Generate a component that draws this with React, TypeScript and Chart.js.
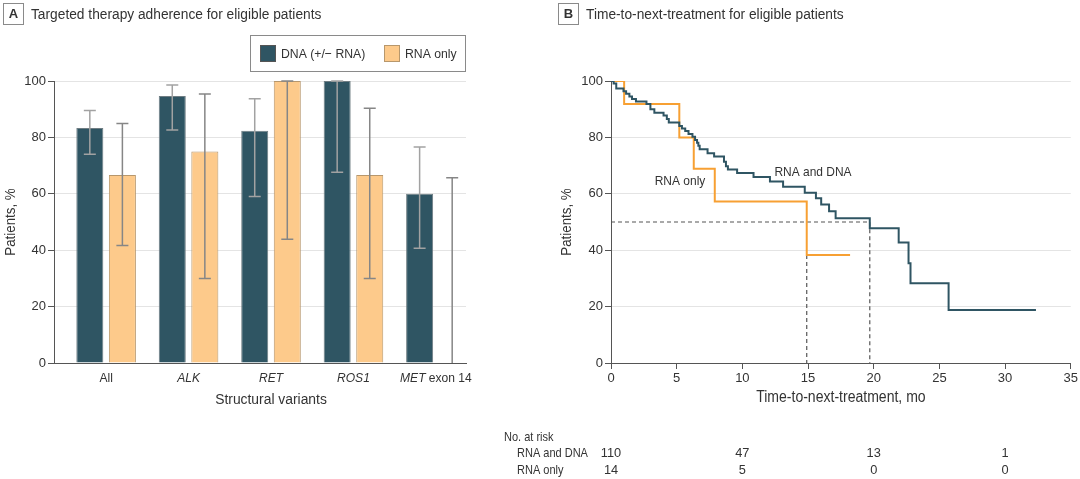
import React, { useEffect, useRef } from "react";
import { Chart, registerables } from "chart.js";

Chart.register(...registerables);

// ---------- data ----------
const categories = ["All", "ALK", "RET", "ROS1", "MET"];
const categorySuffix = ["", "", "", "", " exon 14"];
const categoryItalic = [false, true, true, true, true];

const dnaValues = [83.3, 94.7, 82.4, 100, 60];
const dnaLower = [74.0, 82.6, 59.0, 67.6, 40.7];
const dnaUpper = [89.5, 98.6, 93.7, 100, 76.6];

const rnaValues = [66.7, 75, 100, 66.7, 0];
const rnaLower = [41.7, 30.0, 43.9, 30.0, 0];
const rnaUpper = [84.9, 95.4, 100, 90.3, 65.7];

const kmDnaTimes = [0, 0.2, 0.4, 0.95, 1.15, 1.4, 1.6, 1.9, 2.7, 3.0, 3.3, 4.0, 4.25, 4.4, 5.2, 5.4, 5.65, 5.9, 6.2, 6.4, 6.55, 6.65, 6.75, 7.35, 7.85, 8.6, 8.75, 8.9, 9.6, 10.85, 12.1, 13.1, 14.75, 15.6, 16.0, 16.6, 17.1, 19.7, 21.9, 22.65, 22.8, 25.7, 32.35];
const kmDnaSurv = [100, 99.1, 97.3, 96.4, 95.5, 94.5, 93.6, 92.7, 91.8, 90.0, 88.7, 87.8, 86.5, 85.3, 84.0, 83.2, 82.3, 81.2, 80.2, 79.1, 78.1, 77.0, 75.8, 74.4, 73.2, 71.4, 69.8, 68.6, 67.4, 66.0, 64.4, 62.5, 60.4, 58.4, 56.2, 53.8, 51.3, 47.8, 42.7, 35.4, 28.3, 18.8, 18.8];

const kmRnaTimes = [0, 1.0, 5.2, 6.3, 7.9, 14.9, 18.2];
const kmRnaSurv = [100, 91.8, 80.0, 68.9, 57.3, 38.3, 38.3];

const medianDna = 19.7;
const medianRna = 14.9;
const medianRnaTop = 38.3;

const riskTimes = [0, 10, 20, 30];
const riskDna = [110, 47, 13, 1];
const riskRna = [14, 5, 0, 0];

// ---------- styles ----------
const FONT = '"Liberation Sans", Arial, sans-serif';
const INK = "#333333";
const DNA_FILL = "#2f5563";
const DNA_EDGE = "#6f7d83";
const RNA_FILL = "#fdca8b";
const RNA_EDGE = "#b7976c";
const ORANGE = "#f7a033";
const SX = 0.9; // horizontal condensing of label text

// draw condensed text; returns drawn width
function cText(
  ctx: CanvasRenderingContext2D,
  text: string,
  x: number,
  y: number,
  size: number,
  align: CanvasTextAlign = "left",
  style = "",
  sx = SX
) {
  ctx.save();
  ctx.font = `${style}${size}px ${FONT}`;
  ctx.textAlign = align;
  ctx.textBaseline = "middle";
  ctx.translate(x, y);
  ctx.scale(sx, 1);
  ctx.fillText(text, 0, 0);
  const w = ctx.measureText(text).width * sx;
  ctx.restore();
  return w;
}

function measure(ctx: CanvasRenderingContext2D, text: string, size: number, style = "", sx = SX) {
  ctx.save();
  ctx.font = `${style}${size}px ${FONT}`;
  const w = ctx.measureText(text).width * sx;
  ctx.restore();
  return w;
}

function titleBox(ctx: CanvasRenderingContext2D, x: number, letter: string, title: string) {
  ctx.save();
  ctx.strokeStyle = "#8a8a8a";
  ctx.lineWidth = 1;
  ctx.strokeRect(x + 0.5, 3.5, 20, 21);
  ctx.fillStyle = INK;
  cText(ctx, letter, x + 10.5, 14.5, 13, "center", "bold ", 1);
  cText(ctx, title, x + 28, 14.5, 15.2, "left", "", 0.905);
  ctx.restore();
}

const errorBarPlugin = {
  id: "errorBars",
  afterDatasetsDraw(chart: any) {
    const ctx = chart.ctx as CanvasRenderingContext2D;
    const ys = chart.scales.y;
    const sets = [
      [dnaLower, dnaUpper, "#a2a2a2"],
      [rnaLower, rnaUpper, "#868686"],
    ] as const;
    sets.forEach(([lo, hi, col], di) => {
      const meta = chart.getDatasetMeta(di);
      meta.data.forEach((el: any, i: number) => {
        const x = el.x;
        const y1 = ys.getPixelForValue(lo[i]);
        const y2 = ys.getPixelForValue(hi[i]);
        ctx.save();
        ctx.strokeStyle = col;
        ctx.lineWidth = 1.5;
        ctx.beginPath();
        ctx.moveTo(x, y1);
        ctx.lineTo(x, y2);
        if (lo[i] > 0) {
          ctx.moveTo(x - 6, y1);
          ctx.lineTo(x + 6, y1);
        }
        ctx.moveTo(x - 6, y2);
        ctx.lineTo(x + 6, y2);
        ctx.stroke();
        ctx.restore();
      });
    });
  },
};

const textAPlugin = {
  id: "textA",
  afterDraw(chart: any) {
    const ctx = chart.ctx as CanvasRenderingContext2D;
    const xs = chart.scales.x;
    titleBox(ctx, 3, "A", "Targeted therapy adherence for eligible patients");

    // legend
    ctx.save();
    ctx.strokeStyle = "#8a8a8a";
    ctx.lineWidth = 1;
    ctx.strokeRect(250.5, 35.5, 215, 36);
    ctx.fillStyle = DNA_FILL;
    ctx.fillRect(260, 45, 16, 17);
    ctx.strokeStyle = "#555";
    ctx.strokeRect(260.5, 45.5, 15, 16);
    ctx.fillStyle = RNA_FILL;
    ctx.fillRect(384, 45, 16, 17);
    ctx.strokeStyle = RNA_EDGE;
    ctx.strokeRect(384.5, 45.5, 15, 16);
    ctx.fillStyle = INK;
    cText(ctx, chart.data.datasets[0].label, 281, 54, 13.6);
    cText(ctx, chart.data.datasets[1].label, 405, 54, 13.6);

    // x category labels
    const size = 13.4;
    categories.forEach((c, i) => {
      const cx = xs.getPixelForValue(i);
      const st = categoryItalic[i] ? "italic " : "";
      const w1 = measure(ctx, c, size, st);
      const w2 = categorySuffix[i] ? measure(ctx, categorySuffix[i], size) : 0;
      const start = cx - (w1 + w2) / 2;
      cText(ctx, c, start, 378, size, "left", st);
      if (categorySuffix[i]) cText(ctx, categorySuffix[i], start + w1, 378, size);
    });

    // x title
    cText(ctx, "Structural variants", xs.getPixelForValue(2), 400, 15.4, "center");

    // y title
    ctx.translate(11, 222);
    ctx.rotate(-Math.PI / 2);
    cText(ctx, "Patients, %", 0, 0, 14.8, "center");
    ctx.restore();
  },
};

const textBPlugin = {
  id: "textB",
  afterDraw(chart: any) {
    const ctx = chart.ctx as CanvasRenderingContext2D;
    const xs = chart.scales.x;
    titleBox(ctx, 78, "B", "Time-to-next-treatment for eligible patients");
    ctx.save();
    ctx.fillStyle = INK;
    cText(ctx, "RNA only", 200, 181, 13.3, "center");
    cText(ctx, "RNA and DNA", 333, 172, 13.3, "center");

    cText(ctx, "Time-to-next-treatment, mo", (chart.chartArea.left + chart.chartArea.right) / 2, 398, 15.6, "center");

    // risk table
    cText(ctx, "No. at risk", 24, 437, 12.8, "left", "", 0.86);
    cText(ctx, "RNA and DNA", 37, 453.5, 12.8, "left", "", 0.86);
    cText(ctx, "RNA only", 37, 470, 12.8, "left", "", 0.86);
    ctx.textAlign = "center";
    ctx.textBaseline = "middle";
    ctx.font = `12.8px ${FONT}`;
    riskTimes.forEach((t, i) => {
      const px = xs.getPixelForValue(t);
      ctx.fillText(String(riskDna[i]), px, 453.5);
      ctx.fillText(String(riskRna[i]), px, 470);
    });

    // y title
    ctx.translate(87, 222);
    ctx.rotate(-Math.PI / 2);
    cText(ctx, "Patients, %", 0, 0, 14.8, "center");
    ctx.restore();
  },
};

export default function App() {
  const refA = useRef<HTMLCanvasElement>(null);
  const refB = useRef<HTMLCanvasElement>(null);

  useEffect(() => {
    document.body.style.margin = "0";

    const chartA = new Chart(refA.current as HTMLCanvasElement, {
      type: "bar",
      data: {
        datasets: [
          {
            label: "DNA (+/\u2212 RNA)",
            data: dnaValues.map((v, i) => ({ x: i, y: v })),
            backgroundColor: DNA_FILL,
            borderColor: DNA_EDGE,
            borderWidth: 1,
            categoryPercentage: 0.79,
            barPercentage: 0.83,
          },
          {
            label: "RNA only",
            data: rnaValues.map((v, i) => ({ x: i, y: v })),
            backgroundColor: RNA_FILL,
            borderColor: RNA_EDGE,
            borderWidth: (c: any) => (rnaValues[c.dataIndex] === 0 ? 0 : 1),
            categoryPercentage: 0.79,
            barPercentage: 0.83,
          },
        ],
      } as any,
      options: {
        responsive: false,
        animation: false,
        devicePixelRatio: 1,
        layout: { padding: { top: 81, right: 14, left: 0, bottom: 0 } },
        plugins: { legend: { display: false }, tooltip: { enabled: false } },
        scales: {
          x: {
            type: "linear",
            min: -0.632,
            max: 4.365,
            offset: false,
            grid: { display: false },
            border: { display: true, color: "#555", width: 1 },
            ticks: { display: false },
            afterFit: (s: any) => {
              s.height = 116;
            },
          },
          y: {
            min: 0,
            max: 100,
            ticks: { stepSize: 20, color: INK, font: { family: FONT, size: 13 }, padding: 2 },
            grid: { color: "#e4e4e4", tickColor: "#555", tickLength: 6, lineWidth: 1 },
            border: { color: "#555" },
            afterFit: (s: any) => {
              s.width = 54;
            },
          },
        },
      } as any,
      plugins: [errorBarPlugin, textAPlugin],
    });

    const chartB = new Chart(refB.current as HTMLCanvasElement, {
      type: "line",
      data: {
        datasets: [
          {
            label: "RNA and DNA",
            data: kmDnaTimes.map((t, i) => ({ x: t, y: kmDnaSurv[i] })),
            borderColor: DNA_FILL,
            borderWidth: 2,
            stepped: "before",
            pointRadius: 0,
            fill: false,
          },
          {
            label: "RNA only",
            data: kmRnaTimes.map((t, i) => ({ x: t, y: kmRnaSurv[i] })),
            borderColor: ORANGE,
            borderWidth: 2,
            stepped: "before",
            pointRadius: 0,
            fill: false,
          },
          {
            label: "median DNA",
            data: [
              { x: 0, y: 50 },
              { x: medianDna, y: 50 },
              { x: medianDna, y: 0 },
            ],
            borderColor: "#555",
            borderWidth: 1.2,
            borderDash: [4, 3],
            pointRadius: 0,
            fill: false,
          },
          {
            label: "median RNA",
            data: [
              { x: medianRna, y: medianRnaTop },
              { x: medianRna, y: 0 },
            ],
            borderColor: "#555",
            borderWidth: 1.2,
            borderDash: [4, 3],
            pointRadius: 0,
            fill: false,
          },
        ],
      } as any,
      options: {
        responsive: false,
        animation: false,
        devicePixelRatio: 1,
        layout: { padding: { top: 81, right: 9, left: 0, bottom: 0 } },
        plugins: { legend: { display: false }, tooltip: { enabled: false } },
        scales: {
          x: {
            type: "linear",
            min: 0,
            max: 35,
            ticks: { stepSize: 5, color: INK, font: { family: FONT, size: 13 }, padding: 2, maxRotation: 0 },
            grid: { drawOnChartArea: false, tickColor: "#555", tickLength: 6 },
            border: { color: "#555" },
            afterFit: (s: any) => {
              s.height = 116;
            },
          },
          y: {
            type: "linear",
            min: 0,
            max: 100,
            ticks: { stepSize: 20, color: INK, font: { family: FONT, size: 13 }, padding: 2 },
            grid: { color: "#e4e4e4", tickColor: "#555", tickLength: 6, lineWidth: 1 },
            border: { color: "#555" },
            afterFit: (s: any) => {
              s.width = 131;
            },
          },
        },
      } as any,
      plugins: [textBPlugin],
    });

    return () => {
      chartA.destroy();
      chartB.destroy();
    };
  }, []);

  return (
    <div style={{ position: "fixed", left: 0, top: 0, width: 1080, height: 479, background: "#fff", overflow: "hidden" }}>
      <canvas ref={refA} width={480} height={479} style={{ position: "absolute", left: 0, top: 0 }} />
      <canvas ref={refB} width={600} height={479} style={{ position: "absolute", left: 480, top: 0 }} />
    </div>
  );
}
